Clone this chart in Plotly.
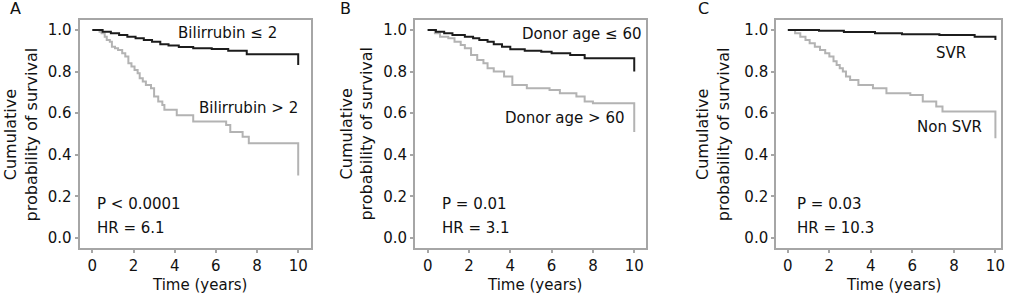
import plotly.graph_objects as go

W, H = 1011, 296

# ---------------- data ----------------
# Panel A
a_low_t = [0, 0.5, 0.9, 1.3, 1.7, 2.1, 2.5, 2.9, 3.3, 3.7, 4.2, 4.9, 5.8, 6.6, 7.5, 10, 10]
a_low_s = [1.0, 0.992, 0.984, 0.976, 0.968, 0.96, 0.952, 0.944, 0.932, 0.925, 0.918, 0.912, 0.908, 0.900, 0.883, 0.883, 0.832]
a_high_t = [0, 0.35, 0.45, 0.6, 0.7, 0.85, 0.95, 1.1, 1.25, 1.45, 1.6, 1.75, 1.9, 2.05, 2.2, 2.3, 2.45, 2.6, 2.85, 3.0, 3.2, 3.4, 3.5, 4.1, 4.9, 6.5, 6.7, 7.3, 7.6, 10, 10]
a_high_s = [1.0, 0.992, 0.984, 0.968, 0.952, 0.944, 0.92, 0.912, 0.904, 0.888, 0.872, 0.84, 0.824, 0.808, 0.792, 0.768, 0.752, 0.736, 0.72, 0.68, 0.656, 0.64, 0.616, 0.59, 0.56, 0.543, 0.51, 0.487, 0.455, 0.455, 0.30]

# Panel B
b_low_t = [0, 0.4, 0.8, 1.2, 1.8, 2.2, 2.5, 2.9, 3.2, 3.6, 4.0, 4.7, 5.5, 6.0, 6.9, 7.6, 10, 10]
b_low_s = [1.0, 0.992, 0.984, 0.976, 0.968, 0.96, 0.952, 0.944, 0.932, 0.92, 0.907, 0.9, 0.895, 0.888, 0.88, 0.864, 0.864, 0.80]
b_high_t = [0, 0.35, 0.6, 1.0, 1.3, 1.6, 1.8, 2.1, 2.4, 2.7, 2.9, 3.2, 3.7, 4.1, 4.8, 5.9, 6.4, 7.2, 7.6, 8.0, 10, 10]
b_high_s = [1.0, 0.984, 0.968, 0.96, 0.944, 0.928, 0.912, 0.88, 0.856, 0.84, 0.816, 0.80, 0.776, 0.736, 0.72, 0.712, 0.696, 0.68, 0.656, 0.648, 0.648, 0.51]

# Panel C
c_svr_t = [0, 1.5, 2.7, 4.2, 5.5, 7.3, 9.0, 10, 10]
c_svr_s = [1.0, 0.996, 0.99, 0.984, 0.98, 0.976, 0.968, 0.968, 0.952]
c_non_t = [0, 0.35, 0.6, 0.85, 1.05, 1.3, 1.55, 1.8, 2.0, 2.2, 2.35, 2.5, 2.65, 2.8, 3.0, 3.4, 4.1, 4.75, 5.9, 6.5, 7.15, 7.45, 10, 10]
c_non_s = [1.0, 0.984, 0.968, 0.952, 0.936, 0.92, 0.904, 0.888, 0.872, 0.85, 0.832, 0.816, 0.8, 0.776, 0.76, 0.736, 0.72, 0.696, 0.688, 0.656, 0.632, 0.608, 0.608, 0.48]

x_ticks = [0, 2, 4, 6, 8, 10]
y_ticks = [0.0, 0.2, 0.4, 0.6, 0.8, 1.0]
y_tick_labels = ["0.0", "0.2", "0.4", "0.6", "0.8", "1.0"]

panel_letters = ["A", "B", "C"]
group_labels = [("Bilirrubin ≤ 2", "Bilirrubin > 2"),
                ("Donor age ≤ 60", "Donor age > 60"),
                ("SVR", "Non SVR")]
p_texts = ["P < 0.0001", "P = 0.01", "P = 0.03"]
hr_texts = ["HR = 6.1", "HR = 3.1", "HR = 10.3"]
x_title = "Time (years)"
y_title = "Cumulative<br>probability of survival"

# ---------------- layout geometry (pixels) ----------------
FONT = "DejaVu Sans"
DARK = "#1c1c1c"
LIGHT = "#b3b3b3"
FRAME = "#a6a6a6"

panels_px = [(80, 312), (416.7, 649), (779.3, 1005)]
x_ranges = [[-0.615, 10.61], [-0.61, 10.59], [-0.56, 10.27]]
y_range = [-0.048, 1.048]
y_dom = [48 / H, 276 / H]

curves = [
    ((a_low_t, a_low_s), (a_high_t, a_high_s)),
    ((b_low_t, b_low_s), (b_high_t, b_high_s)),
    ((c_svr_t, c_svr_s), (c_non_t, c_non_s)),
]

fig = go.Figure()
for i, ((lt, ls), (ht, hs)) in enumerate(curves):
    xa = "x" if i == 0 else f"x{i+1}"
    ya = "y" if i == 0 else f"y{i+1}"
    fig.add_trace(go.Scatter(x=ht, y=hs, mode="lines", line_shape="hv",
                             line=dict(color=LIGHT, width=2), xaxis=xa, yaxis=ya,
                             showlegend=False, hoverinfo="skip"))
    fig.add_trace(go.Scatter(x=lt, y=ls, mode="lines", line_shape="hv",
                             line=dict(color=DARK, width=2), xaxis=xa, yaxis=ya,
                             showlegend=False, hoverinfo="skip"))

layout = dict(
    width=W, height=H,
    margin=dict(l=0, r=0, t=0, b=0),
    paper_bgcolor="white", plot_bgcolor="white",
    font=dict(family=FONT, size=15, color="#111"),
    showlegend=False,
)

axis_common = dict(showgrid=False, zeroline=False, showline=True, mirror=True,
                   linecolor=FRAME, linewidth=2, ticks="outside", ticklen=3,
                   tickwidth=2, tickcolor=FRAME,
                   tickfont=dict(family=FONT, size=15, color="#111"))

for i, (x0, x1) in enumerate(panels_px):
    sfx = "" if i == 0 else str(i + 1)
    layout[f"xaxis{sfx}"] = dict(axis_common, domain=[x0 / W, x1 / W], range=x_ranges[i],
                                 tickvals=x_ticks, anchor=f"y{sfx}")
    layout[f"yaxis{sfx}"] = dict(axis_common, domain=y_dom, range=y_range,
                                 tickvals=y_ticks, ticktext=y_tick_labels, anchor=f"x{sfx}")

fig.update_layout(**layout)

# annotations
ann = []
letter_x = [16, 347, 706]
ytitle_x = [21.5, 358, 716]
xtitle_x = [200.7, 536.7, 896.7]
lab_pos = [((6.55, 0.986), (7.59, 0.625)),
           ((7.46, 0.981), (6.64, 0.577)),
           ((7.87, 0.889), (7.8, 0.534))]
stat_x = [0.11, 0.61, 0.34]

for i in range(3):
    sfx = "" if i == 0 else str(i + 1)
    ann.append(dict(text=panel_letters[i], x=letter_x[i] / W, y=1 - 9 / H, xref="paper", yref="paper",
                    showarrow=False, xanchor="center", yanchor="middle",
                    font=dict(family=FONT, size=16, color="#111")))
    ann.append(dict(text=y_title, x=ytitle_x[i] / W, y=1 - 134 / H, xref="paper", yref="paper",
                    showarrow=False, textangle=-90, xanchor="center", yanchor="middle",
                    font=dict(family=FONT, size=16, color="#111")))
    ann.append(dict(text=x_title, x=xtitle_x[i] / W, y=1 - 285 / H, xref="paper", yref="paper",
                    showarrow=False, xanchor="center", yanchor="middle",
                    font=dict(family=FONT, size=15, color="#111")))
    (lx, ly), (hx, hy) = lab_pos[i]
    ann.append(dict(text=group_labels[i][0], x=lx, y=ly, xref=f"x{sfx}", yref=f"y{sfx}",
                    showarrow=False, xanchor="center", yanchor="middle"))
    ann.append(dict(text=group_labels[i][1], x=hx, y=hy, xref=f"x{sfx}", yref=f"y{sfx}",
                    showarrow=False, xanchor="center", yanchor="middle"))
    ann.append(dict(text=p_texts[i], x=stat_x[i], y=0.163, xref=f"x{sfx}", yref=f"y{sfx}",
                    showarrow=False, xanchor="left", yanchor="middle"))
    ann.append(dict(text=hr_texts[i], x=stat_x[i], y=0.05, xref=f"x{sfx}", yref=f"y{sfx}",
                    showarrow=False, xanchor="left", yanchor="middle"))

fig.update_layout(annotations=ann)
fig.write_html("out.html",
               config={"displayModeBar": False},
               post_script="document.body.style.margin='0';document.body.style.padding='0';")
